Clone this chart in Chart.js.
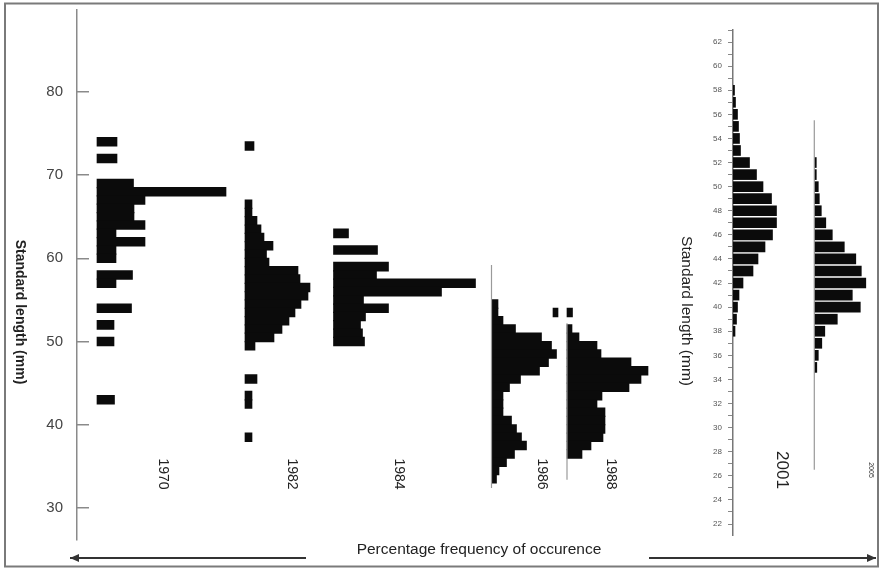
<!DOCTYPE html>
<html>
<head>
<meta charset="utf-8">
<script src="https://cdn.jsdelivr.net/npm/chart.js@4.4.1/dist/chart.umd.min.js"></script>
<style>
  html, body { margin: 0; padding: 0; background: #fff; }
  #wrap { position: relative; width: 881px; height: 569px; }
  #wrap canvas { position: absolute; left: 0; top: 0; }
</style>
</head>
<body>
<div id="wrap">
  <canvas id="leftChart" width="881" height="569"></canvas>
  <canvas id="rightChart" width="881" height="569"></canvas>
</div>
<script>
// ==========================================
// 1. DATA (standard length in mm, % frequency)
// ==========================================
const len1970  = [74, 72, 69, 68, 67, 66, 65, 64, 63, 62, 61, 60, 58, 57, 54, 52, 50, 43];
const freq1970 = [4, 4, 7.3, 25.8, 9.6, 7.4, 7.4, 9.6, 3.8, 9.6, 3.8, 3.8, 7.1, 3.8, 6.9, 3.4, 3.4, 3.5];

const len1982  = [73.5, 66.5, 65.5, 64.5, 63.5, 62.5, 61.5, 60.5, 59.5, 58.5, 57.5, 56.5, 55.5, 54.5, 53.5, 52.5, 51.5, 50.5, 49.5, 45.5, 43.5, 42.5, 38.5];
const freq1982 = [1.8, 1.4, 1.4, 2.4, 3.2, 3.8, 5.6, 4.3, 4.8, 10.6, 11, 13, 12.6, 11.2, 10, 8.8, 7.4, 5.8, 2, 2.4, 1.4, 1.4, 1.4];

const len1984  = [63, 61, 59, 58, 57, 56, 55, 54, 53, 52, 51, 50];
const freq1984 = [3, 8.8, 11, 8.6, 28.4, 21.6, 6, 11, 6.4, 5.4, 5.8, 6.2];

const len1986  = [54.5, 53.5, 52.5, 51.5, 50.5, 49.5, 48.5, 47.5, 46.5, 45.5, 44.5, 43.5, 42.5, 41.5, 40.5, 39.5, 38.5, 37.5, 36.5, 35.5, 34.5, 33.5];
const freq1986 = [1.3, 1.3, 2.3, 4.8, 10, 12, 13, 11.4, 9.6, 5.8, 3.6, 2.3, 2.3, 2.3, 4, 5, 6, 7, 4.6, 3, 1.5, 1];

const len1988  = [53.5, 51.5, 50.5, 49.5, 48.5, 47.5, 46.5, 45.5, 44.5, 43.5, 42.5, 41.5, 40.5, 39.5, 38.5, 37.5, 36.5];
const freq1988 = [1.1, 1, 2.4, 6, 6.8, 12.8, 16.2, 14.8, 12.4, 7, 6, 7.6, 7.6, 7.6, 7.2, 4.8, 3];

const len2001  = [58, 57, 56, 55, 54, 53, 52, 51, 50, 49, 48, 47, 46, 45, 44, 43, 42, 41, 40, 39, 38];
const freq2001 = [0.3, 0.5, 0.9, 1.1, 1.3, 1.5, 3.3, 4.7, 6, 7.7, 8.7, 8.7, 7.9, 6.4, 5, 4, 2, 1.2, 0.9, 0.7, 0.4];

const len2005  = [52, 51, 50, 49, 48, 47, 46, 45, 44, 43, 42, 41, 40, 39, 38, 37, 36, 35];
const freq2005 = [0.4, 0.4, 0.8, 1, 1.4, 2.3, 3.6, 6, 8.3, 9.4, 10.3, 7.6, 9.2, 4.6, 2.1, 1.5, 0.8, 0.5];

// range covered by the thin baseline of the later samples (mm)
const stem1986 = [59.2, 32.4];
const stem1988 = [52.2, 33.4];
const stem2005 = [55.5, 26.5];

// detached mark between the 1986 and 1988 panels: [length, from %, to %]
const strayMark = [53.5, 95.2, 96.2];

const leftTicks  = [30, 40, 50, 60, 70, 80];
const rightTicks = [22, 24, 26, 28, 30, 32, 34, 36, 38, 40, 42, 44, 46, 48, 50, 52, 54, 56, 58, 60, 62];

// ==========================================
// 2. LAYOUT (x units = % frequency, offsets per sample)
// ==========================================
const FONT = '"Liberation Sans", Arial, sans-serif';
const INK = '#0b0b0b';
const base1970 = 4, base1982 = 33.6, base1984 = 51.3, base1986 = 82.9, base1988 = 98;
const base2001 = 0, base2005 = 16.26;

const floating = (lengths, freqs, base) =>
  lengths.map((l, i) => ({ y: l, x: [base, base + freqs[i]] }));

const stem = (range, base) => range.map(v => ({ x: base, y: v }));

function barSet(label, data, thickness) {
  return {
    type: 'bar', label, data,
    backgroundColor: INK, borderWidth: 0,
    barThickness: thickness, grouped: false
  };
}
function stemSet(label, data) {
  return {
    type: 'line', label, data,
    borderColor: '#9a9a9a', borderWidth: 1.2,
    pointRadius: 0, tension: 0
  };
}

// keep the axis from reserving room for half a label above/below
function fixedAxis(width) {
  return s => { s.width = width; s.paddingTop = 0; s.paddingBottom = 0; };
}

function rotatedText(ctx, text, x, y, font, color) {
  ctx.save();
  ctx.translate(x, y);
  ctx.rotate(Math.PI / 2);
  ctx.font = font;
  ctx.fillStyle = color;
  ctx.textAlign = 'center';
  ctx.textBaseline = 'middle';
  ctx.fillText(text, 0, 0);
  ctx.restore();
}

function arrow(ctx, x1, x2, y, dir) {
  ctx.beginPath();
  ctx.moveTo(x1, y); ctx.lineTo(x2, y);
  ctx.stroke();
  const tip = dir < 0 ? x1 : x2;
  ctx.beginPath();
  ctx.moveTo(tip, y);
  ctx.lineTo(tip - dir * 9, y - 4);
  ctx.lineTo(tip - dir * 9, y + 4);
  ctx.closePath();
  ctx.fill();
}

const yearLabelsLeft = [
  { text: '1970', x: 162.5, y: 474 },
  { text: '1982', x: 291.5, y: 474 },
  { text: '1984', x: 398.5, y: 474 },
  { text: '1986', x: 541.5, y: 474 },
  { text: '1988', x: 611,   y: 474 }
];

// ==========================================
// 3. LEFT GROUP (1970 - 1988)
// ==========================================
const leftDecor = {
  id: 'leftDecor',
  afterDraw(chart) {
    const ctx = chart.ctx;
    ctx.save();
    ctx.strokeStyle = '#7a7a7a';
    ctx.lineWidth = 2;
    ctx.strokeRect(5, 3.5, 873, 563);

    rotatedText(ctx, 'Standard length (mm)', 20, 312, 'bold 14px ' + FONT, '#222');
    yearLabelsLeft.forEach(l => rotatedText(ctx, l.text, l.x, l.y, '14px ' + FONT, '#222'));

    ctx.font = '15.5px ' + FONT;
    ctx.fillStyle = '#222';
    ctx.textAlign = 'center';
    ctx.textBaseline = 'middle';
    ctx.fillText('Percentage frequency of occurence', 479, 550);

    ctx.strokeStyle = '#333';
    ctx.fillStyle = '#333';
    ctx.lineWidth = 2;
    arrow(ctx, 70, 306, 558, -1);
    arrow(ctx, 649, 876, 558, 1);
    ctx.restore();
  }
};

new Chart(document.getElementById('leftChart'), {
  data: {
    datasets: [
      stemSet('1986 base', stem(stem1986, base1986)),
      stemSet('1988 base', stem(stem1988, base1988)),
      barSet('1970', floating(len1970, freq1970, base1970), 8.9),
      barSet('1982', floating(len1982, freq1982, base1982), 8.9),
      barSet('1984', floating(len1984, freq1984, base1984), 8.9),
      barSet('1986', floating(len1986, freq1986, base1986), 8.9),
      barSet('1988', floating(len1988, freq1988, base1988), 8.9),
      barSet('mark', [{ y: strayMark[0], x: [strayMark[1], strayMark[2]] }], 8.9)
    ]
  },
  options: {
    indexAxis: 'y',
    responsive: false,
    animation: false,
    devicePixelRatio: 1,
    layout: { padding: { left: 0, right: 221, top: 9.5, bottom: 29 } },
    plugins: { legend: { display: false }, tooltip: { enabled: false } },
    scales: {
      x: { type: 'linear', min: 0, max: 116.6, display: false, offset: false },
      y: {
        type: 'linear', position: 'left', min: 26.15, max: 89.9, offset: false,
        afterFit: fixedAxis(77),
        afterBuildTicks: s => { s.ticks = leftTicks.map(v => ({ value: v })); },
        border: { display: true, color: '#8a8a8a', width: 1.5 },
        grid: { offset: false, drawOnChartArea: false, drawTicks: true, tickLength: -12, color: '#8a8a8a', lineWidth: 1.5 },
        ticks: { padding: 26, color: '#444', font: { family: FONT, size: 15 } }
      }
    }
  },
  plugins: [leftDecor]
});

// ==========================================
// 4. RIGHT GROUP (2001, 2005)
// ==========================================
const rightDecor = {
  id: 'rightDecor',
  afterDraw(chart) {
    const ctx = chart.ctx;
    rotatedText(ctx, 'Standard length (mm)', 686, 311, '15.5px ' + FONT, '#222');
    rotatedText(ctx, '2001', 782, 470, '17px ' + FONT, '#222');
    rotatedText(ctx, '2005', 871, 470, '7px ' + FONT, '#333');
  }
};

new Chart(document.getElementById('rightChart'), {
  data: {
    datasets: [
      stemSet('2005 base', stem(stem2005, base2005)),
      barSet('2001', floating(len2001, freq2001, base2001), 10),
      barSet('2005', floating(len2005, freq2005, base2005), 10)
    ]
  },
  options: {
    indexAxis: 'y',
    responsive: false,
    animation: false,
    devicePixelRatio: 1,
    layout: { padding: { left: 0, right: 3, top: 30, bottom: 34 } },
    plugins: { legend: { display: false }, tooltip: { enabled: false } },
    scales: {
      x: { type: 'linear', min: 0, max: 29, display: false, offset: false },
      y: {
        type: 'linear', position: 'left', min: 21.09, max: 63, offset: false,
        afterFit: fixedAxis(733),
        afterBuildTicks: s => {
          const t = [];
          for (let v = 22; v <= 63; v++) t.push({ value: v });
          s.ticks = t;
        },
        border: { display: true, color: '#777', width: 1.5 },
        grid: { offset: false, drawOnChartArea: false, drawTicks: true, tickLength: 5, color: '#888', lineWidth: 1 },
        ticks: {
          autoSkip: false, padding: 6, color: '#555',
          font: { family: FONT, size: 8 },
          callback: v => rightTicks.includes(v) ? String(v) : ''
        }
      }
    }
  },
  plugins: [rightDecor]
});
</script>
</body>
</html>
